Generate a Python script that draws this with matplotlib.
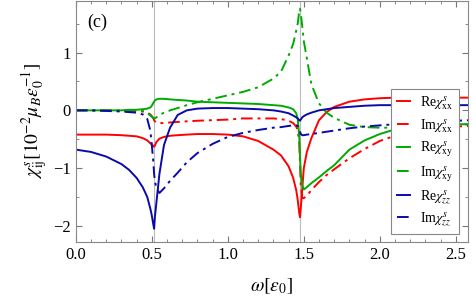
import matplotlib
matplotlib.use("Agg")
import matplotlib.pyplot as plt
from matplotlib.ticker import MultipleLocator

plt.rcParams['font.family'] = 'serif'
plt.rcParams['font.serif'] = ['Liberation Serif', 'DejaVu Serif']
plt.rcParams['mathtext.fontset'] = 'stix'

# frequency grid, denser around the two resonances
omega = [0.0, 0.1, 0.2, 0.3, 0.35, 0.4, 0.44, 0.47, 0.49, 0.50, 0.51, 0.515,
         0.52, 0.53, 0.55, 0.58, 0.62, 0.67, 0.73, 0.8, 0.9, 1.0, 1.1, 1.2,
         1.3, 1.35, 1.4, 1.43, 1.45, 1.46, 1.47, 1.475, 1.48, 1.49, 1.50, 1.52,
         1.55, 1.6, 1.65, 1.7, 1.8, 1.9, 2.0, 2.1, 2.2, 2.35, 2.5, 2.6]

re_xx = [-0.42, -0.42, -0.42, -0.43, -0.44, -0.45, -0.48, -0.52, -0.57, -0.59, -0.62, -0.63,
         -0.61, -0.55, -0.49, -0.46, -0.44, -0.43, -0.42, -0.41, -0.41, -0.42, -0.45, -0.53,
         -0.68, -0.78, -0.97, -1.17, -1.38, -1.55, -1.78, -1.85, -1.7, -1.35, -1.0, -0.72,
         -0.48, -0.17, -0.03, 0.06, 0.15, 0.19, 0.21, 0.22, 0.22, 0.22, 0.22, 0.22]
im_xx = [0.0, 0.0, 0.0, -0.01, -0.01, -0.01, -0.02, -0.04, -0.07, -0.1, -0.14, -0.17,
         -0.19, -0.21, -0.22, -0.22, -0.21, -0.2, -0.19, -0.18, -0.17, -0.16, -0.14, -0.14,
         -0.14, -0.15, -0.18, -0.22, -0.28, -0.35, -0.55, -0.9, -1.3, -1.52, -1.52, -1.48,
         -1.38, -1.24, -1.12, -1.02, -0.83, -0.67, -0.53, -0.44, -0.37, -0.31, -0.28, -0.27]
re_xy = [0.0, 0.0, 0.0, 0.0, 0.01, 0.01, 0.02, 0.03, 0.05, 0.08, 0.13, 0.15,
         0.17, 0.19, 0.2, 0.2, 0.19, 0.18, 0.17, 0.15, 0.14, 0.13, 0.12, 0.11,
         0.09, 0.08, 0.05, 0.02, -0.05, -0.15, -0.45, -0.8, -1.1, -1.3, -1.37, -1.33,
         -1.26, -1.16, -1.05, -0.95, -0.68, -0.52, -0.41, -0.33, -0.28, -0.26, -0.24, -0.24]
im_xy = [0.0, 0.0, 0.0, 0.0, 0.0, 0.0, -0.01, -0.04, -0.09, -0.11, -0.13, -0.14,
         -0.14, -0.12, -0.08, -0.04, 0.0, 0.04, 0.09, 0.14, 0.2, 0.26, 0.32, 0.4,
         0.55, 0.67, 0.95, 1.15, 1.38, 1.5, 1.72, 1.76, 1.68, 1.45, 1.2, 0.9,
         0.45, 0.12, -0.04, -0.13, -0.25, -0.29, -0.3, -0.3, -0.29, -0.27, -0.25, -0.24]
re_zz = [-0.68, -0.72, -0.8, -0.93, -1.03, -1.17, -1.33, -1.5, -1.7, -1.82, -1.98, -2.05,
         -1.85, -1.6, -1.1, -0.6, -0.3, -0.08, 0.0, 0.03, 0.04, 0.04, 0.03, 0.02,
         0.0, -0.02, -0.05, -0.09, -0.12, -0.14, -0.17, -0.18, -0.16, -0.12, -0.1, -0.07,
         -0.04, 0.0, 0.02, 0.04, 0.06, 0.08, 0.09, 0.09, 0.09, 0.09, 0.09, 0.09]
im_zz = [0.0, 0.0, -0.01, -0.02, -0.03, -0.04, -0.07, -0.15, -0.35, -0.6, -0.9, -1.1,
         -1.22, -1.35, -1.43, -1.35, -1.22, -1.08, -0.9, -0.74, -0.58, -0.46, -0.39, -0.34,
         -0.3, -0.29, -0.27, -0.26, -0.26, -0.27, -0.32, -0.37, -0.41, -0.43, -0.43, -0.42,
         -0.41, -0.39, -0.37, -0.35, -0.31, -0.28, -0.26, -0.24, -0.22, -0.2, -0.18, -0.17]

resonances = [0.515, 1.475]

RED = '#ff0000'
GREEN = '#00aa00'
BLUE = '#0a0aa8'
DASHDOT = (0, (6, 2.5, 1.5, 2.5))

fig = plt.figure(figsize=(4.77, 3.06), dpi=100)
ax = fig.add_axes([0.159, 0.209, 0.822, 0.789])

for w in resonances:
    ax.axvline(w, color='#bbbbbb', lw=0.8, zorder=0)

series = [
    (re_xx, RED, '-', r'Re$\chi^s_{\rm xx}$'),
    (im_xx, RED, DASHDOT, r'Im$\chi^s_{\rm xx}$'),
    (re_xy, GREEN, '-', r'Re$\chi^s_{\rm xy}$'),
    (im_xy, GREEN, DASHDOT, r'Im$\chi^s_{\rm xy}$'),
    (re_zz, BLUE, '-', r'Re$\chi^s_{zz}$'),
    (im_zz, BLUE, DASHDOT, r'Im$\chi^s_{zz}$'),
]
for vals, col, ls, lab in series:
    ax.plot(omega, vals, color=col, linestyle=ls, lw=1.4, label=lab)

ax.set_xlim(0, 2.58)
ax.set_ylim(-2.28, 1.9)
ax.xaxis.set_major_locator(MultipleLocator(0.5))
ax.xaxis.set_minor_locator(MultipleLocator(0.1))
ax.yaxis.set_major_locator(MultipleLocator(1))
ax.yaxis.set_minor_locator(MultipleLocator(0.5))
ax.tick_params(which='both', direction='in', top=True, right=True,
               color='#777777', labelsize=12)
ax.tick_params(which='major', length=4)
ax.tick_params(which='minor', length=2.5)
for sp in ax.spines.values():
    sp.set_color('#888888')
    sp.set_linewidth(0.8)

ax.set_xlabel(r'$\omega[\varepsilon_0]$', fontsize=14, labelpad=10)
ax.set_ylabel(r'$\chi^s_{\rm ij}[10^{-2}\mu_B\varepsilon_0^{-1}]$', fontsize=14, labelpad=2)
ax.text(0.03, 0.91, '(c)', transform=ax.transAxes, fontsize=13, va='center')

leg = ax.legend(loc='lower right', bbox_to_anchor=(0.995, 0.005), fontsize=10,
                fancybox=False, edgecolor='#888888', framealpha=1,
                handlelength=1.0, handletextpad=0.7, labelspacing=0.36,
                borderpad=0.4)
leg.get_frame().set_linewidth(0.8)

fig.savefig('out.png', dpi=100)
